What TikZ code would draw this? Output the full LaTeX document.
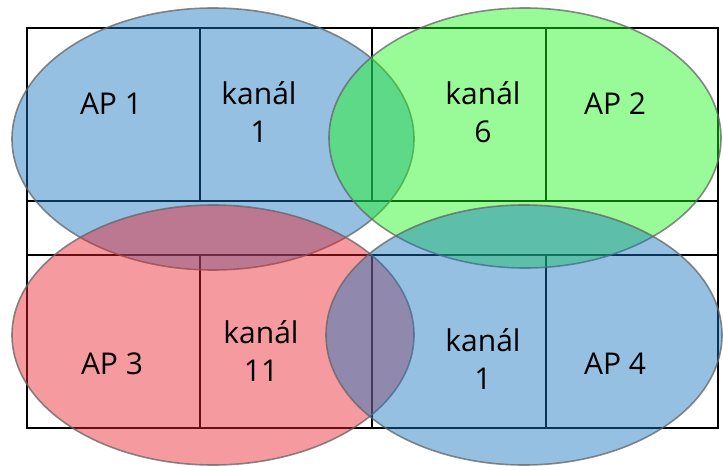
\documentclass[tikz,border=0pt]{standalone}
\usepackage{fontspec}
\setmainfont{Open Sans}
\definecolor{apblue}{RGB}{22,116,191}
\definecolor{apgreen}{RGB}{27,247,27}
\definecolor{apred}{RGB}{233,33,44}
\definecolor{rimgray}{RGB}{100,100,100}
\begin{document}
\begin{tikzpicture}[x=1pt,y=-1pt,
  gridline/.style={draw=black,line width=2.2pt},
  zone/.style={draw=rimgray,draw opacity=0.75,line width=1.6pt,fill opacity=0.45},
  label/.style={font=\fontsize{30}{38}\selectfont,align=center,inner sep=0pt,text=black}]
\useasboundingbox (0,0) rectangle (723,466);
% grid
\draw[gridline] (27,28) rectangle (718,428);
\draw[gridline] (27,201) -- (718,201);
\draw[gridline] (27,255) -- (718,255);
\foreach \x in {200,372,546}{
  \draw[gridline] (\x,28) -- (\x,201);
  \draw[gridline] (\x,255) -- (\x,428);
}
% coverage zones
\path[zone,fill=apblue]  (213,139) ellipse [x radius=201,y radius=131];
\path[zone,fill=apgreen] (525,138) ellipse [x radius=196,y radius=130];
\path[zone,fill=apred]   (213,335) ellipse [x radius=201,y radius=130];
\path[zone,fill=apblue]  (524,335) ellipse [x radius=198,y radius=130];
% labels
\node[label] (ap1) at (111,104) {AP 1};
\node[label] (k1)  at (259,112) {kanál\\1};
\node[label] (k6)  at (483,112) {kanál\\6};
\node[label] (ap2) at (615,104) {AP 2};
\node[label] (ap3) at (112,364) {AP 3};
\node[label] (k11) at (261,351) {kanál\\11};
\node[label] (k1b) at (483,359) {kanál\\1};
\node[label] (ap4) at (615,364) {AP 4};
\end{tikzpicture}
\end{document}
